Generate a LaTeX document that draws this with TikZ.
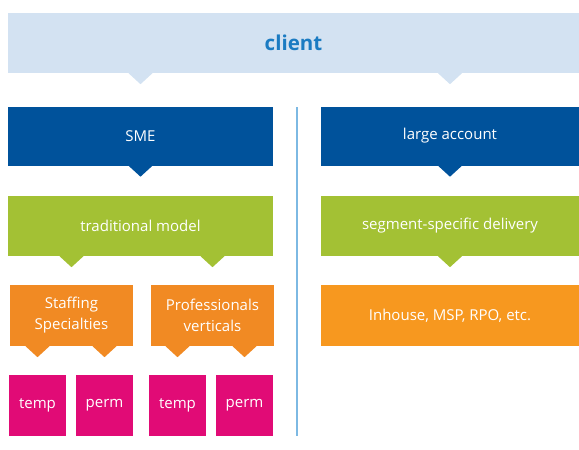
\documentclass[tikz,border=0pt]{standalone}
\usepackage{fontspec}
\setmainfont{Open Sans}

\definecolor{clientbg}{HTML}{D3E2F2}
\definecolor{clienttxt}{HTML}{1B7BC2}
\definecolor{darkblue}{HTML}{00529B}
\definecolor{leafgreen}{HTML}{A3C134}
\definecolor{orangeL}{HTML}{F18A23}
\definecolor{orangeR}{HTML}{F7981F}
\definecolor{magenta}{HTML}{E10B76}
\definecolor{divblue}{HTML}{7DB9E3}

\usetikzlibrary{calc}

\tikzset{
  blk/.style={rectangle, inner sep=0pt, text=white, align=center,
    font=\fontsize{15}{21}\selectfont},
}

% pointer from the bottom of one box towards the box below
\newcommand{\pointer}[3]{\fill[#1] ($(#2.south -| #3.north)+(-12,0)$) -- ++(12,11) -- ++(12,-11) -- cycle;}

\begin{document}
\begin{tikzpicture}[x=1pt,y=-1pt]
  \useasboundingbox (0,0) rectangle (579,450);

  \node (client) at (293.5,43) [blk, fill=clientbg, minimum width=571, minimum height=60,
    text=clienttxt, font=\fontsize{20.5}{24}\selectfont\bfseries] {client};

  \node (sme) at (140.5,136) [blk, fill=darkblue, minimum width=265, minimum height=59] {SME};
  \node (large) at (450,136) [blk, fill=darkblue, minimum width=258, minimum height=59] {large account};

  \node (trad) at (140.5,226) [blk, fill=leafgreen, minimum width=265, minimum height=60] {traditional model};
  \node (seg) at (450,226) [blk, fill=leafgreen, minimum width=258, minimum height=60] {segment-specific delivery};

  \node (staff) at (71.5,315.5) [blk, fill=orangeL, minimum width=123, minimum height=61] {Staffing\\Specialties};
  \node (prof) at (212.5,315.5) [blk, fill=orangeL, minimum width=123, minimum height=61] {Professionals\\verticals};
  \node (inhouse) at (450,315.5) [blk, fill=orangeR, minimum width=258, minimum height=61] {Inhouse, MSP, RPO, etc.};

  \node (temp1) at (37.5,405.5) [blk, fill=magenta, minimum width=57, minimum height=61] {temp};
  \node (perm1) at (104.5,405.5) [blk, fill=magenta, minimum width=57, minimum height=61] {perm};
  \node (temp2) at (177.5,405.5) [blk, fill=magenta, minimum width=57, minimum height=61] {temp};
  \node (perm2) at (244.5,405.5) [blk, fill=magenta, minimum width=57, minimum height=61] {perm};

  \pointer{clientbg}{client}{sme}
  \pointer{clientbg}{client}{large}
  \pointer{darkblue}{sme}{trad}
  \pointer{darkblue}{large}{seg}
  \pointer{leafgreen}{trad}{staff}
  \pointer{leafgreen}{trad}{prof}
  \pointer{leafgreen}{seg}{inhouse}
  \pointer{orangeL}{staff}{temp1}
  \pointer{orangeL}{staff}{perm1}
  \pointer{orangeL}{prof}{temp2}
  \pointer{orangeL}{prof}{perm2}

  \coordinate (divtop) at (297,107);
  \coordinate (divbot) at (297,436);
  \draw[divblue, line width=1.5pt] (divtop) -- (divbot);
\end{tikzpicture}
\end{document}
